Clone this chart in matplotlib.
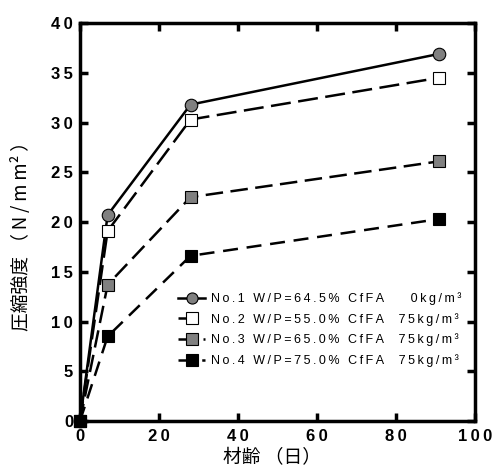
import matplotlib
matplotlib.use("Agg")
import matplotlib.pyplot as plt

days = [0, 7, 28, 91]
no1 = [0, 20.7, 31.8, 36.9]
no2 = [0, 19.1, 30.3, 34.5]
no3 = [0, 13.7, 22.5, 26.1]
no4 = [0, 8.5, 16.6, 20.3]
labels = [
    "No.1 W/P=64.5% CfFA    0kg/m³",
    "No.2 W/P=55.0% CfFA  75kg/m³",
    "No.3 W/P=65.0% CfFA  75kg/m³",
    "No.4 W/P=75.0% CfFA  75kg/m³",
]
xticks = [0, 20, 40, 60, 80, 100]
yticks = [0, 5, 10, 15, 20, 25, 30, 35, 40]
xlabel = "材齢 （日）"
ylabel = "圧縮強度 （N/mm²）"

SP = '\u2009'


def spaced(s):
    return SP.join(s)


plt.rcParams['font.family'] = ['Liberation Sans', 'Noto Sans CJK JP', 'DejaVu Sans']

fig = plt.figure(figsize=(4.92, 4.67), dpi=100)
ax = fig.add_axes([0.1626, 0.0985, 0.8024, 0.8522])

styles = [
    dict(marker='o', mfc='#808080', dash=None),
    dict(marker='s', mfc='white', dash=(8, 3)),
    dict(marker='s', mfc='#808080', dash=(7, 3)),
    dict(marker='s', mfc='black', dash=(6, 3.5)),
]
series = [no1, no2, no3, no4]
for s, st, lab in zip(series, styles, labels):
    line, = ax.plot(days, s, ls='-', color='black', lw=1.8, marker=st['marker'],
                    mfc=st['mfc'], mec='black', mew=0.8, ms=9,
                    label=spaced(lab), clip_on=False, zorder=3)
    if st['dash']:
        line.set_dashes(st['dash'])

ax.set_xlim(0, 100)
ax.set_ylim(0, 40)
ax.set_xticks(xticks)
ax.set_yticks(yticks)
ax.set_xticklabels([spaced(str(v)) for v in xticks])
ax.set_yticklabels([spaced(str(v)) for v in yticks])
for sp in ax.spines.values():
    sp.set_linewidth(2.5)
ax.tick_params(direction='in', width=2.5, length=6, top=True, right=True,
               labelsize=12)
ax.tick_params(axis='y', pad=5)
ax.tick_params(axis='x', pad=6)
for t in ax.get_xticklabels() + ax.get_yticklabels():
    t.set_fontweight('bold')

ax.set_xlabel(xlabel, family=['Noto Sans CJK JP', 'DejaVu Sans'], fontsize=13.5, va='center')
ax.xaxis.set_label_coords(0.486, -0.091)
ylab_text = "圧縮強度 （" + SP + spaced("N/mm") + "²" + SP + "）"
ax.set_ylabel(ylab_text, family=['Noto Sans CJK JP', 'DejaVu Sans'], fontsize=13.5, va='center')
ax.yaxis.set_label_coords(-0.149, 0.477)

leg = ax.legend(loc='lower right', bbox_to_anchor=(0.985, 0.117), frameon=False, fontsize=9,
                handlelength=2.1, handletextpad=0.5, labelspacing=0.62, borderaxespad=0.2)
for h in leg.get_lines():
    h.set_markersize(8)

fig.savefig("out.png", dpi=100)
